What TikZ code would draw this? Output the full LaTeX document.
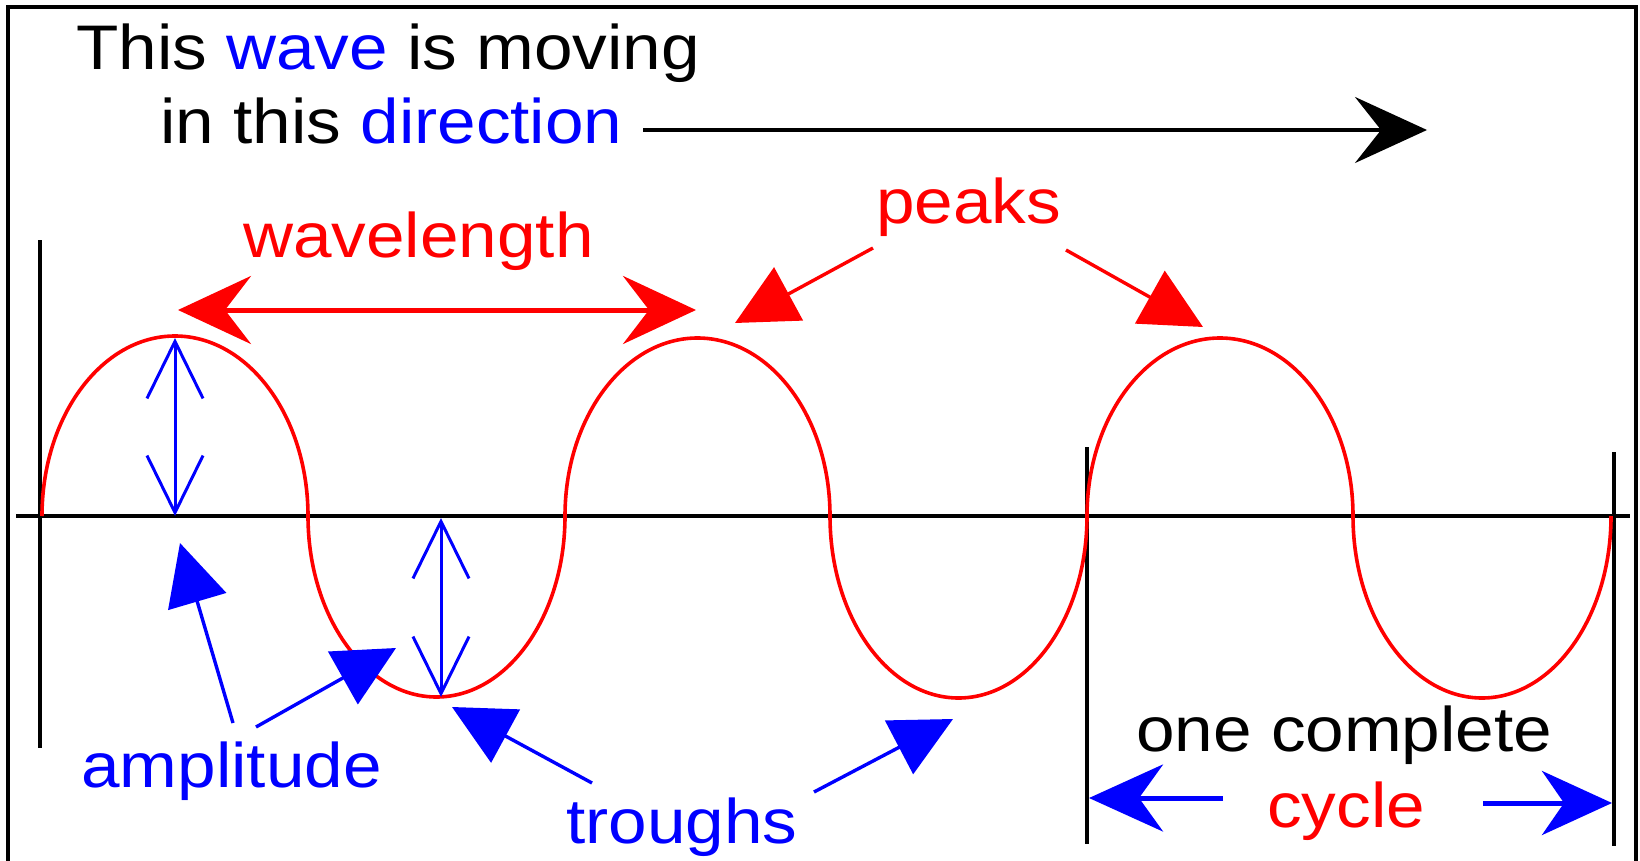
\documentclass[tikz,border=0pt]{standalone}
\usepackage{fontspec}
\setmainfont{Liberation Sans}
\usetikzlibrary{arrows.meta}
\definecolor{wred}{RGB}{255,0,0}
\definecolor{wblue}{RGB}{0,0,255}
\begin{document}
\begin{tikzpicture}[x=1pt,y=-1pt,
  lbl/.style={font=\fontsize{63}{70}\selectfont, inner sep=0pt, anchor=base west, xscale=1.1},
  frame/.style={line width=4pt, black},
  guide/.style={line width=3.8pt, black},
  wave/.style={line width=3.6pt, wred},
  ampl/.style={wblue, line width=3pt, {Straight Barb[length=57pt,width=56pt]}-{Straight Barb[length=57pt,width=56pt]}},
  pointer/.style={line width=3.4pt, -{Triangle[length=61pt,width=60pt]}},
]
\useasboundingbox (0,0) rectangle (1640,861);
% frame
\draw[frame] (8,861) -- (8,7) -- (1636,7) -- (1636,861);

% texts
\node[lbl] (title1) at (76,70) {This \textcolor{wblue}{wave} is moving};
\node[lbl] (title2) at (160,144) {in this \textcolor{wblue}{direction}};
\node[lbl, text=wred] (wl) at (243,257) {wavelength};
\node[lbl, text=wred] (pk) at (876,223) {peaks};
\node[lbl, text=wblue] (amp) at (81,787) {amplitude};
\node[lbl, text=wblue] (tr) at (566,843) {troughs};
\node[lbl] (oc) at (1136,751) {one complete};
\node[lbl, text=wred] (cy) at (1267,827) {cycle};

% direction arrow
\coordinate (dirS) at (643,130);
\coordinate (dirE) at (1427,130);
\draw[line width=3.8pt, -{Stealth[length=72pt,width=66pt,inset=26pt]}] (dirS) -- (dirE);

% axis and guides
\coordinate (axL) at (16,516);
\coordinate (axR) at (1630,516);
\draw[line width=3.8pt] (axL) -- (axR);
\coordinate (g1a) at (40,240); \coordinate (g1b) at (40,748);
\coordinate (g2a) at (1087,447); \coordinate (g2b) at (1087,844);
\coordinate (g3a) at (1614,452); \coordinate (g3b) at (1614,846);
\draw[guide] (g1a) -- (g1b);
\draw[guide] (g2a) -- (g2b);
\draw[guide] (g3a) -- (g3b);

% wave (semi-ellipses)
\coordinate (w0) at (42,516);
\draw[wave] (w0)
  arc[start angle=180,end angle=0,x radius=133pt,y radius=180pt]
  arc[start angle=180,end angle=360,x radius=128.5pt,y radius=181pt]
  arc[start angle=180,end angle=0,x radius=132.5pt,y radius=178pt]
  arc[start angle=180,end angle=360,x radius=128.5pt,y radius=182pt]
  arc[start angle=180,end angle=0,x radius=133pt,y radius=178pt]
  arc[start angle=180,end angle=360,x radius=129pt,y radius=182pt];

% wavelength
\coordinate (wlL) at (178,310);
\coordinate (wlR) at (696,310);
\draw[wred, line width=5pt, {Stealth[length=73pt,width=68pt,inset=26pt]}-{Stealth[length=73pt,width=68pt,inset=26pt]}] (wlL) -- (wlR);

% peaks pointers
\coordinate (pk1s) at (873,248); \coordinate (pk1e) at (735,323);
\coordinate (pk2s) at (1066,250); \coordinate (pk2e) at (1203,327);
\draw[pointer, wred] (pk1s) -- (pk1e);
\draw[pointer, wred] (pk2s) -- (pk2e);

% amplitude double arrows
\coordinate (a1t) at (175,338); \coordinate (a1b) at (175,516);
\coordinate (a2t) at (441,518); \coordinate (a2b) at (441,697);
\draw[ampl] (a1t) -- (a1b);
\draw[ampl] (a2t) -- (a2b);

% amplitude pointers
\coordinate (ap1s) at (233,723); \coordinate (ap1e) at (180,543);
\coordinate (ap2s) at (256,727); \coordinate (ap2e) at (396,648);
\draw[pointer, wblue] (ap1s) -- (ap1e);
\draw[pointer, wblue] (ap2s) -- (ap2e);

% trough pointers
\coordinate (tp1s) at (592,783); \coordinate (tp1e) at (452,707);
\coordinate (tp2s) at (814,792); \coordinate (tp2e) at (953,719);
\draw[pointer, wblue] (tp1s) -- (tp1e);
\draw[pointer, wblue] (tp2s) -- (tp2e);

% cycle arrows
\coordinate (c1s) at (1223,798); \coordinate (c1e) at (1089,798);
\coordinate (c2s) at (1483,803); \coordinate (c2e) at (1612,803);
\draw[wblue, line width=5pt, -{Stealth[length=74pt,width=67pt,inset=24pt]}] (c1s) -- (c1e);
\draw[wblue, line width=5pt, -{Stealth[length=70pt,width=64pt,inset=22pt]}] (c2s) -- (c2e);
\end{tikzpicture}
\end{document}
